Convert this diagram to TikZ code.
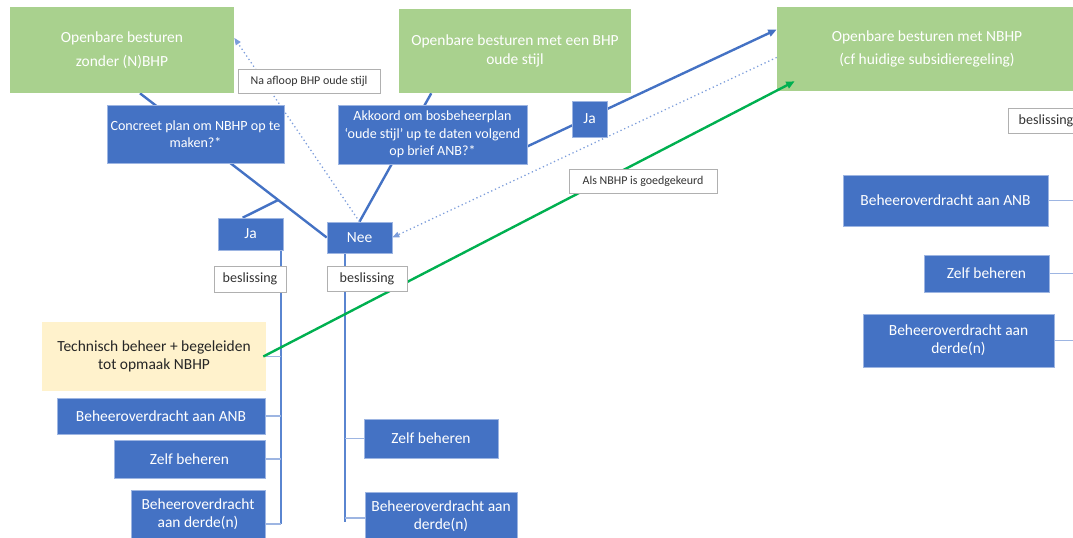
\documentclass[tikz,border=0pt]{standalone}
\usepackage{fontspec}
\setmainfont{Carlito}
\usetikzlibrary{arrows.meta,calc}
\definecolor{boxblue}{HTML}{4472C4}
\definecolor{boxgreen}{HTML}{A9D18E}
\definecolor{boxyellow}{HTML}{FFF2CC}
\definecolor{spineblue}{HTML}{5A85D0}
\definecolor{lightblue}{HTML}{9DB5E2}
\definecolor{dotblue}{HTML}{7C9DDB}
\definecolor{arrowgreen}{HTML}{00B050}
\definecolor{labelgrey}{HTML}{B0B0B0}
\pgfdeclarelayer{background}
\pgfdeclarelayer{foreground}
\pgfsetlayers{background,main,foreground}
\begin{document}
\begin{tikzpicture}[x=0.025cm,y=-0.025cm]
	\tikzset{greenbox/.style = {rectangle,fill=boxgreen,text=white,align=center,inner sep=0pt,font=\fontsize{11}{17}\selectfont}}
	\tikzset{bluebox/.style = {rectangle,fill=boxblue,draw=lightblue,line width=0.4pt,text=white,align=center,inner sep=0pt,font=\fontsize{11}{13}\selectfont}}
	\tikzset{question/.style = {bluebox,font=\fontsize{10}{12.5}\selectfont}}
	\tikzset{techbox/.style = {rectangle,fill=boxyellow,text=black!85,align=center,inner sep=0pt,font=\fontsize{11}{13}\selectfont}}
	\tikzset{tag/.style = {rectangle,fill=white,draw=labelgrey,line width=0.6pt,text=black!80,inner sep=0pt,font=\fontsize{8.5}{10}\selectfont}}
	\tikzset{decision/.style = {tag,font=\fontsize{10}{12}\selectfont}}
	\tikzset{mainline/.style = {draw=boxblue,line width=1.7pt}}
	\tikzset{spine/.style = {draw=spineblue,line width=1.4pt}}
	\tikzset{branch/.style = {draw=lightblue,line width=0.9pt}}
	\tikzset{tip/.style = {-{Triangle[length=6pt,width=5pt]}}}
	\tikzset{dotarrow/.style = {draw=dotblue,line width=0.9pt,dotted,-{Triangle[length=5pt,width=4pt]}}}
	\useasboundingbox (0,0) rectangle (1073,538);
	\node[greenbox,minimum width=5.6cm,minimum height=2.15cm] (g1) at (122,50) {Openbare besturen\\zonder (N)BHP};
	\node[greenbox,minimum width=5.8cm,minimum height=2.1cm,font=\fontsize{11}{13}\selectfont] (g2) at (515,51) {Openbare besturen met een BHP\\oude stijl};
	\node[greenbox,minimum width=7.5cm,minimum height=2.1cm] (g3) at (927,49) {Openbare besturen met NBHP\\(cf huidige subsidieregeling)};
	\node[question,minimum width=4.425cm,minimum height=1.45cm] (concreet) at (195.5,134) {Concreet plan om NBHP op te\\maken?*};
	\node[question,minimum width=4.725cm,minimum height=1.475cm] (akkoord) at (432.5,134.5) {Akkoord om bosbeheerplan\\‘oude stijl’ up te daten volgend\\op brief ANB?*};
	\node[bluebox,minimum width=0.875cm,minimum height=0.9cm] (ja2) at (589.5,119) {Ja};
	\node[bluebox,minimum width=1.625cm,minimum height=0.8cm] (ja1) at (250.5,234) {Ja};
	\node[bluebox,minimum width=1.625cm,minimum height=0.775cm] (nee) at (359.5,237.5) {Nee};
	\node[techbox,minimum width=5.6cm,minimum height=1.725cm] (tech) at (154,356.5) {Technisch beheer + begeleiden\\tot opmaak NBHP};
	\node[bluebox,minimum width=5.2cm,minimum height=0.9cm] (anb1) at (161,416) {Beheeroverdracht aan ANB};
	\node[bluebox,minimum width=3.775cm,minimum height=0.95cm] (zelf1) at (189.5,459) {Zelf beheren};
	\node[bluebox,minimum width=3.35cm,minimum height=1.2cm] (derde1) at (198,514) {Beheeroverdracht\\aan derde(n)};
	\node[bluebox,minimum width=3.35cm,minimum height=0.975cm] (zelf2) at (431,438.5) {Zelf beheren};
	\node[bluebox,minimum width=3.8cm,minimum height=1.2cm] (derde2) at (441,516) {Beheeroverdracht aan\\derde(n)};
	\node[bluebox,minimum width=5.125cm,minimum height=1.275cm] (anb3) at (945.5,200.5) {Beheeroverdracht aan ANB};
	\node[bluebox,minimum width=3.125cm,minimum height=0.925cm] (zelf3) at (986.5,273.5) {Zelf beheren};
	\node[bluebox,minimum width=4.775cm,minimum height=1.325cm] (derde3) at (958.5,340.5) {Beheeroverdracht aan\\derde(n)};
	\begin{pgfonlayer}{foreground}
		\node[tag,minimum width=3.55cm,minimum height=0.6cm] (afloop) at (309,81) {Na afloop BHP oude stijl};
		\node[tag,minimum width=3.7cm,minimum height=0.6cm] (goedgekeurd) at (643,181) {Als NBHP is goedgekeurd};
		\node[decision,minimum width=1.8cm,minimum height=0.65cm] (besl1) at (250,279) {beslissing};
		\node[decision,minimum width=2cm,minimum height=0.625cm] (besl2) at (367,278.5) {beslissing};
		\node[decision,minimum width=1.875cm,minimum height=0.625cm] (besl3) at (1046,120.5) {beslissing};
	\end{pgfonlayer}
	\begin{pgfonlayer}{background}
		\coordinate (g1foot) at ($(g1.south west)!0.58!(g1.south east)$);
		\coordinate (g2foot) at ($(g2.south west)!0.14!(g2.south east)$);
		\coordinate (fork) at ($(g1foot)!0.74!(nee.west)$);
		\coordinate (ja1top) at ($(ja1.north west)!0.38!(ja1.north east)$);
		\coordinate (akkoordout) at ($(akkoord.east)!0.4!(akkoord.south east)$);
		\coordinate (g3in) at ($(g3.north west)!0.27!(g3.south west)$);
		\coordinate (g3dot) at ($(g3.north west)!0.6!(g3.south west)$);
		\coordinate (g1dot) at ($(g1.north east)!0.36!(g1.south east)$);
		\coordinate (spineA) at ($(ja1.south east)+(-2,0)$);
		\coordinate (spineB) at ($(nee.south west)+(18,0)$);
		\coordinate (derde1in) at ($(derde1.east)+(0,10)$);
		\coordinate (derde2in) at ($(derde2.west)+(0,2)$);
		\coordinate (rightedge) at (1085,0);
		\path[mainline] (g1foot) edge (nee.west);
		\path[mainline] (fork) edge (ja1top);
		\path[mainline] (g2foot) edge (nee.north);
		\draw[mainline,tip] (akkoordout) -- (g3in);
		\draw[dotarrow] (g3dot) -- (nee.east);
		\draw[dotarrow] (nee.north) -- (g1dot);
		\draw[spine] (spineA) -- (spineA |- derde1in);
		\draw[spine] (spineB) -- ($(spineB |- derde2in)+(0,4)$);
		\foreach \n in {tech,anb1,zelf1}
			\draw[branch] (\n.east) -- (\n.east -| spineA);
		\draw[branch] (derde1in) -- (derde1in -| spineA);
		\draw[branch] (zelf2.west) -- (zelf2.west -| spineB);
		\draw[branch] (derde2in) -- (derde2in -| spineB);
		\foreach \n in {anb3,zelf3,derde3}
			\draw[branch] (\n.east) -- (\n.east -| rightedge);
	\end{pgfonlayer}
	\coordinate (g3green) at ($(g3.south west)+(18,-10)$);
	\draw[draw=arrowgreen,line width=1.7pt,tip] ($(tech.east)+(-3,0)$) -- (g3green);
\end{tikzpicture}
\end{document}
